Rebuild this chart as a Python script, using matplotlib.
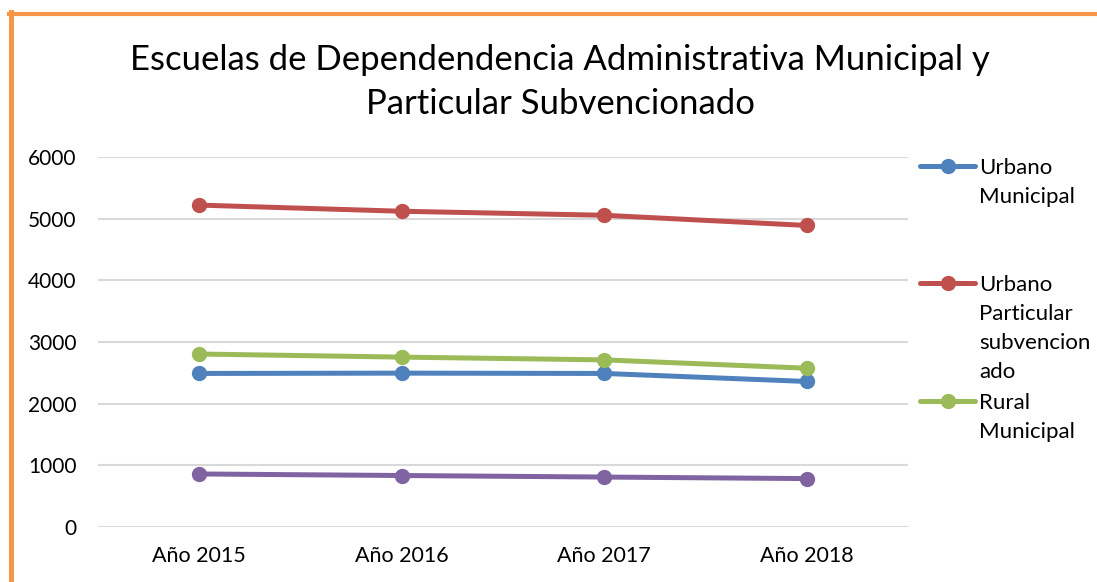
import matplotlib
matplotlib.use("Agg")
import matplotlib.pyplot as plt
from matplotlib.lines import Line2D
import numpy as np

plt.rcParams['font.family'] = ['Lato', 'DejaVu Sans']

years = ["Año 2015", "Año 2016", "Año 2017", "Año 2018"]
urbano_municipal = [2490, 2495, 2490, 2360]
urbano_part_subv = [5220, 5120, 5055, 4890]
rural_municipal = [2805, 2755, 2710, 2575]
rural_part_subv = [860, 835, 810, 785]

series = [
    ("Urbano\nMunicipal", urbano_municipal, "#4F81BD"),
    ("Urbano\nParticular\nsubvencion\nado", urbano_part_subv, "#C0504D"),
    ("Rural\nMunicipal", rural_municipal, "#9BBB59"),
    ("Rural\nParticular\nsubvencion\nado", rural_part_subv, "#8064A2"),
]

W, H = 1097, 582
fig = plt.figure(figsize=(W / 100, H / 100), dpi=100)
ax = fig.add_axes([98 / W, (H - 527) / H, (908 - 98) / W, (527 - 157) / H])

x = np.arange(len(years))
handles = []
for label, vals, color in series:
    ln, = ax.plot(x, vals, color=color, lw=3.6, marker="o", ms=10,
                  solid_capstyle="round", label=label, zorder=3)
    handles.append(ln)

ax.set_xlim(-0.5, 3.5)
ax.set_ylim(0, 6000)
ax.set_yticks(range(0, 7000, 1000))
ax.set_xticks(x)
ax.set_xticklabels(years)
ax.grid(axis="y", color="#D9D9D9", lw=1.5)
ax.set_axisbelow(True)
for s in ax.spines.values():
    s.set_visible(False)
ax.tick_params(length=0, labelsize=15, colors="black")
ax.tick_params(axis="y", pad=15.5)
ax.tick_params(axis="x", pad=14)
for t in ax.get_xticklabels():
    t.set_fontsize(15.5)

# title
fig.text(560 / W, 1 - 82 / H, "Escuelas de Dependendencia Administrativa Municipal y\nParticular Subvencionado",
         ha="center", va="center", fontsize=25, linespacing=1.44)

# legend entries (4th entry is cut off in the original chart)
leg_fs = 16
line_step = 29
first_rows = [168, 285, 403]
legends = []
for h, row in zip(handles[:3], first_rows):
    lines = h.get_label().split("\n")
    lg = fig.legend([h], [lines[0]], loc="center left",
                    bbox_to_anchor=(920 / W, 1 - row / H), frameon=False,
                    fontsize=leg_fs, handlelength=2.48, handletextpad=0.18,
                    borderaxespad=0, borderpad=0)
    legends.append((lg, lines, row))

fig.canvas.draw()
renderer = fig.canvas.get_renderer()
for lg, lines, row in legends:
    x0 = lg.texts[0].get_window_extent(renderer).x0 / W
    for i, extra in enumerate(lines[1:], start=1):
        fig.text(x0, 1 - (row + i * line_step) / H, extra, ha="left", va="center",
                 fontsize=leg_fs)

# orange frame
fig.add_artist(Line2D([10.5 / W, 10.5 / W], [0, 1 - 12 / H], color="#F79646", lw=3.6,
                      transform=fig.transFigure))
fig.add_artist(Line2D([9 / W, 1], [1 - 14 / H, 1 - 14 / H], color="#F79646", lw=3,
                      transform=fig.transFigure))

fig.savefig("out.png", dpi=100)
